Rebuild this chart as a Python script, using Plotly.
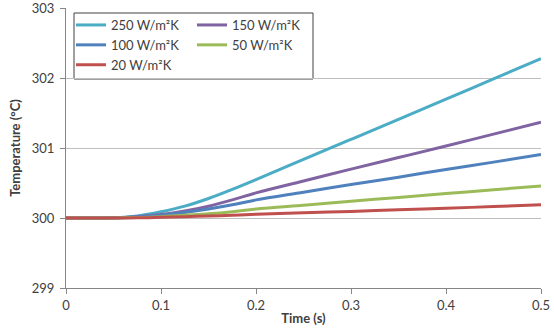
import plotly.graph_objects as go

time_s = [0, 0.025, 0.05, 0.075, 0.1, 0.125, 0.15, 0.175, 0.2, 0.25, 0.3, 0.35, 0.4, 0.45, 0.5]
temp_250 = [300, 300, 300.005, 300.03, 300.09, 300.17, 300.28, 300.41, 300.55, 300.84, 301.125, 301.41, 301.70, 301.99, 302.28]
temp_150 = [300, 300, 300.003, 300.02, 300.05, 300.10, 300.17, 300.26, 300.36, 300.53, 300.70, 300.865, 301.03, 301.20, 301.37]
temp_100 = [300, 300, 300.002, 300.015, 300.04, 300.08, 300.13, 300.19, 300.26, 300.37, 300.48, 300.585, 300.695, 300.80, 300.91]
temp_50 = [300, 300, 300.001, 300.008, 300.02, 300.04, 300.06, 300.09, 300.13, 300.185, 300.24, 300.295, 300.35, 300.405, 300.46]
temp_20 = [300, 300, 300, 300.003, 300.01, 300.02, 300.03, 300.04, 300.055, 300.075, 300.095, 300.118, 300.14, 300.165, 300.19]

series_names = ["250 W/m²K", "150 W/m²K", "100 W/m²K", "50 W/m²K", "20 W/m²K"]
x_ticks = [0, 0.1, 0.2, 0.3, 0.4, 0.5]
x_tick_labels = ["0", "0.1", "0.2", "0.3", "0.4", "0.5"]
y_ticks = [299, 300, 301, 302, 303]

colors = ["#4BACC6", "#8064A2", "#4F81BD", "#9BBB59", "#C0504D"]
legends = ["legend", "legend2", "legend", "legend2", "legend"]
series = [temp_250, temp_150, temp_100, temp_50, temp_20]

FONT = "Lato"
TXT = "#404040"

fig = go.Figure()
for i in range(len(series)):
    fig.add_trace(go.Scatter(
        x=time_s, y=series[i], mode="lines", name=series_names[i],
        line=dict(color=colors[i], width=3, shape="spline"),
        legend=legends[i], legendgroup=f"g{i}",
    ))

W, H = 554, 331
L, R, T, B = 66, 13, 8, 43
pw, ph = W - L - R, H - T - B

def px_x(x):
    return (x - L) / pw

def px_y(y):
    return (H - B - y) / ph

fig.update_layout(
    width=W, height=H,
    margin=dict(l=L, r=R, t=T, b=B),
    paper_bgcolor="white", plot_bgcolor="white",
    font=dict(family=FONT, size=13, color=TXT),
    xaxis=dict(
        range=[0, 0.5], tickvals=x_ticks, ticktext=x_tick_labels,
        showgrid=False, zeroline=False, automargin=False,
        showline=True, linecolor="#868686", linewidth=1,
        ticks="outside", ticklen=5, tickcolor="#868686",
        tickfont=dict(family=FONT, size=13, color=TXT),
        ticklabeloverflow="allow",
        title=dict(text="<b>Time (s)</b>", font=dict(family=FONT, size=13, color=TXT), standoff=2),
    ),
    yaxis=dict(
        range=[299, 303.004], tickvals=y_ticks,
        showgrid=True, gridcolor="#BFBFBF", gridwidth=1, zeroline=False, automargin=False,
        showline=True, linecolor="#868686", linewidth=1,
        ticks="outside", ticklen=5, tickcolor="#868686",
        tickfont=dict(family=FONT, size=13, color=TXT),
        ticklabeloverflow="allow", ticklabelstandoff=3,
        title=dict(text="<b>Temperature (°C)</b>", font=dict(family=FONT, size=13, color=TXT), standoff=8),
    ),
    legend=dict(
        x=px_x(71), y=px_y(10), xanchor="left", yanchor="top",
        bgcolor="rgba(0,0,0,0)", borderwidth=0,
        font=dict(family=FONT, size=13, color=TXT),
        traceorder="normal", tracegroupgap=2,
    ),
    legend2=dict(
        x=px_x(192), y=px_y(10), xanchor="left", yanchor="top",
        bgcolor="rgba(0,0,0,0)", borderwidth=0,
        font=dict(family=FONT, size=13, color=TXT),
        traceorder="normal", tracegroupgap=2,
    ),
    shapes=[dict(
        type="rect", xref="paper", yref="paper",
        x0=px_x(74), x1=px_x(313), y0=px_y(79), y1=px_y(13),
        line=dict(color=TXT, width=1), fillcolor="white", layer="below",
    )],
)

fig.write_html("out.html")
